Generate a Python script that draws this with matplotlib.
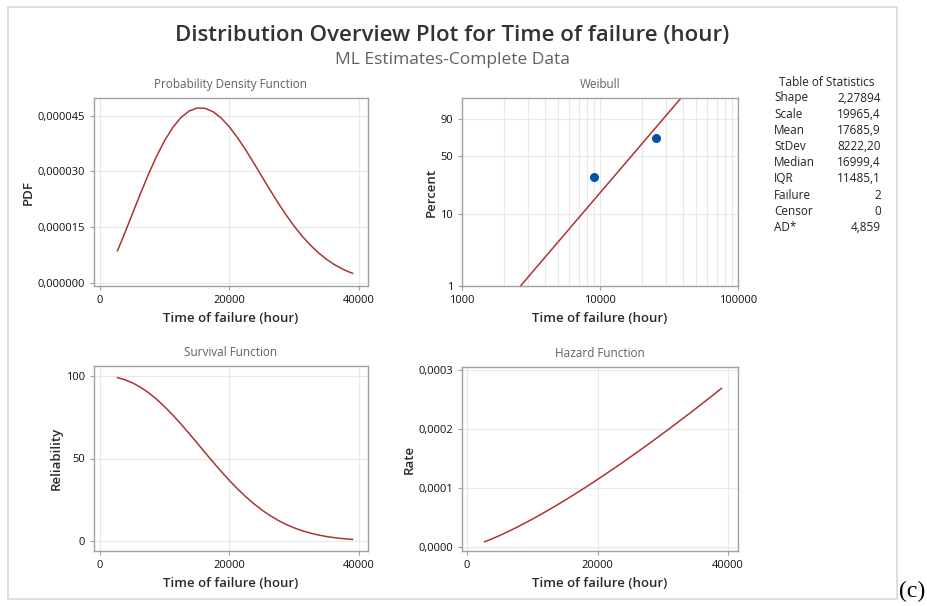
import numpy as np
import matplotlib
matplotlib.use("Agg")
from matplotlib import pyplot as plt
from matplotlib.patches import Rectangle
from matplotlib.ticker import FixedLocator, NullFormatter

plt.rcParams['font.family'] = ['Open Sans', 'DejaVu Sans']

# values
t_pts = [2700, 3750, 5000, 6250, 7500, 8750, 10000, 11250, 12500, 13750, 15000, 16250,
         17500, 18750, 20000, 21250, 22500, 23750, 25000, 26250, 27500, 28750, 30000,
         31250, 32500, 33750, 35000, 36250, 37500, 38250, 39000]
pdf_vals = [8.74e-6, 1.316e-5, 1.862e-5, 2.407e-5, 2.931e-5, 3.412e-5, 3.833e-5, 4.182e-5,
            4.446e-5, 4.620e-5, 4.702e-5, 4.693e-5, 4.598e-5, 4.428e-5, 4.191e-5, 3.904e-5,
            3.578e-5, 3.227e-5, 2.866e-5, 2.507e-5, 2.159e-5, 1.833e-5, 1.532e-5, 1.261e-5,
            1.024e-5, 8.18e-6, 6.44e-6, 4.99e-6, 3.81e-6, 3.22e-6, 2.70e-6]
surv_vals = [98.96, 97.81, 95.83, 93.16, 89.82, 85.85, 81.31, 76.29, 70.89, 65.22, 59.38,
             53.50, 47.68, 42.04, 36.64, 31.58, 26.90, 22.65, 18.83, 15.48, 12.56, 10.07,
             7.97, 6.23, 4.81, 3.66, 2.75, 2.04, 1.49, 1.23, 1.01]
haz_vals = [8.84e-6, 1.345e-5, 1.943e-5, 2.584e-5, 3.264e-5, 3.974e-5, 4.714e-5, 5.481e-5,
            6.271e-5, 7.084e-5, 7.919e-5, 8.772e-5, 9.645e-5, 1.0533e-4, 1.144e-4, 1.236e-4,
            1.330e-4, 1.425e-4, 1.522e-4, 1.620e-4, 1.719e-4, 1.820e-4, 1.922e-4, 2.024e-4,
            2.129e-4, 2.234e-4, 2.340e-4, 2.448e-4, 2.556e-4, 2.622e-4, 2.688e-4]

fail_times = [9000, 25500]
fail_pct = [29.2, 70.8]
fit_t = [2653, 38830]
fit_pct = [1, 99]

stat_names = ['Shape', 'Scale', 'Mean', 'StDev', 'Median', 'IQR', 'Failure', 'Censor', 'AD*']
stat_vals = ['2,27894', '19965,4', '17685,9', '8222,20', '16999,4', '11485,1', '2', '0', '4,859']

W, H = 928, 606
fig = plt.figure(figsize=(W / 100, H / 100), dpi=100)
fig.patch.set_facecolor('white')

# outer frame
fig.add_artist(Rectangle((8 / W, 1 - 599 / H), (897 - 8) / W, (599 - 7) / H,
                         transform=fig.transFigure, fill=False, edgecolor='#d9d9d9', lw=1.2))

fig.text(452 / W, 1 - 36 / H, 'Distribution Overview Plot for Time of failure (hour)',
         ha='center', va='center', fontsize=16, fontweight='semibold', color='#333333')
fig.text(452 / W, 1 - 60 / H, 'ML Estimates-Complete Data', ha='center', va='center',
         fontsize=12.5, color='#606060')
fig.text(912 / W, 1 - 591 / H, '(c)', ha='center', va='center', fontsize=17,
         family='Liberation Serif', color='black')

curve_col = '#ab3434'
spine_col = '#a0a0a0'
grid_col = '#e8e8e8'


def make_ax(l, t, r, b):
    ax = fig.add_axes([l / W, 1 - b / H, (r - l) / W, (b - t) / H])
    for s in ax.spines.values():
        s.set_color(spine_col)
        s.set_linewidth(1.0)
    ax.tick_params(labelsize=8, color=spine_col, length=3, labelcolor='#111111')
    ax.grid(True, color=grid_col, lw=0.8)
    ax.set_axisbelow(True)
    return ax


def label_ax(ax, title, ylab):
    ax.set_title(title, fontsize=8.5, color='#606060', pad=7)
    ax.set_xlabel('Time of failure (hour)', fontsize=9.5, color='#2a2a2a',
                  fontweight='semibold', labelpad=4)
    ax.set_ylabel(ylab, fontsize=9.5, color='#2a2a2a', fontweight='semibold', labelpad=2)


# PDF
ax1 = make_ax(94, 98, 368, 286)
ax1.plot(t_pts, pdf_vals, color=curve_col, lw=1.1)
ax1.set_xlim(-925, 41390)
ax1.set_ylim(-0.0000007, 0.0000497)
ax1.set_xticks([0, 20000, 40000])
ax1.set_yticks([0, 0.000015, 0.00003, 0.000045])
ax1.set_yticklabels(['0,000000', '0,000015', '0,000030', '0,000045'])
label_ax(ax1, 'Probability Density Function', 'PDF')

# Weibull probability plot
def fwd(p):
    p = np.clip(np.asarray(p, dtype=float), 1e-6, 100 - 1e-9)
    return np.log(-np.log(1 - p / 100))


def inv(y):
    return 100 * (1 - np.exp(-np.exp(np.asarray(y, dtype=float))))


ax2 = make_ax(462, 98, 738, 286)
ax2.set_xscale('log')
ax2.set_yscale('function', functions=(fwd, inv))
ax2.plot(fit_t, fit_pct, color=curve_col, lw=1.1)
ax2.scatter(fail_times, fail_pct, s=30, color='#0054a6', zorder=3)
ax2.set_xlim(1000, 100000)
ax2.set_ylim(1, 98.95)
ax2.set_xticks([1000, 10000, 100000])
ax2.set_xticklabels(['1000', '10000', '100000'])
ax2.xaxis.set_minor_locator(FixedLocator([m * d for d in (1000, 10000) for m in range(2, 10)]))
ax2.xaxis.set_minor_formatter(NullFormatter())
ax2.tick_params(axis='x', which='minor', length=0)
ax2.grid(True, which='minor', axis='x', color=grid_col, lw=0.8)
ax2.yaxis.set_major_locator(FixedLocator([1, 10, 50, 90]))
ax2.set_yticklabels(['1', '10', '50', '90'])
ax2.yaxis.set_minor_locator(FixedLocator([]))
label_ax(ax2, 'Weibull', 'Percent')

# Survival
ax3 = make_ax(94, 366, 368, 551)
ax3.plot(t_pts, surv_vals, color=curve_col, lw=1.1)
ax3.set_xlim(-925, 41390)
ax3.set_ylim(-6, 106)
ax3.set_xticks([0, 20000, 40000])
ax3.set_yticks([0, 50, 100])
label_ax(ax3, 'Survival Function', 'Reliability')

# Hazard
ax4 = make_ax(462, 367, 738, 551)
ax4.plot(t_pts, haz_vals, color=curve_col, lw=1.1)
ax4.set_xlim(-770, 41530)
ax4.set_ylim(-0.0000068, 0.000305)
ax4.set_xticks([0, 20000, 40000])
ax4.set_yticks([0, 0.0001, 0.0002, 0.0003])
ax4.set_yticklabels(['0,0000', '0,0001', '0,0002', '0,0003'])
label_ax(ax4, 'Hazard Function', 'Rate')

# table of statistics
fig.text(827 / W, 1 - 82 / H, 'Table of Statistics', ha='center', va='center',
         fontsize=8.5, color='#222222')
for i, (nm, v) in enumerate(zip(stat_names, stat_vals)):
    y = 1 - (98 + i * 16.2) / H
    fig.text(774 / W, y, nm, ha='left', va='center', fontsize=8.5, color='#222222')
    fig.text(881 / W, y, v, ha='right', va='center', fontsize=8.5, color='#222222')

fig.savefig('out.png', dpi=100, facecolor='white')
